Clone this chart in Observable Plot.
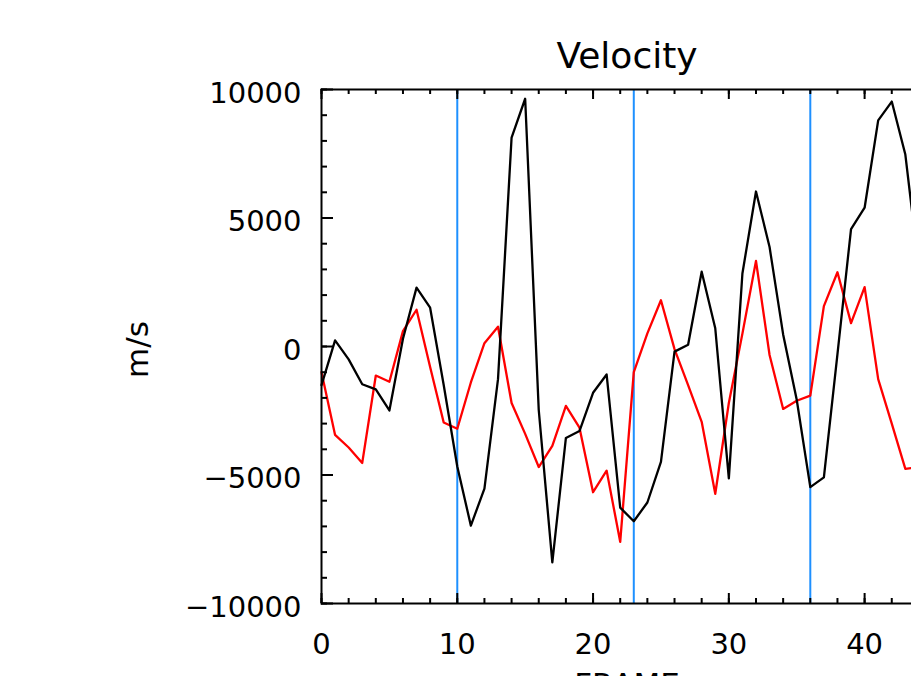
<!DOCTYPE html>
<html><head><meta charset="utf-8">
<script src="https://cdn.jsdelivr.net/npm/d3@7"></script>
<script src="https://cdn.jsdelivr.net/npm/@observablehq/plot@0.6"></script>
<style>html,body{margin:0;padding:0;background:#fff;overflow:hidden;width:911px;height:676px}</style>
</head><body><div id="chart"></div>
<script>
const frames = [0,1,2,3,4,5,6,7,8,9,10,11,12,13,14,15,16,17,18,19,20,21,22,23,24,25,26,27,28,29,30,31,32,33,34,35,36,37,38,39,40,41,42,43,44];
const blackVel = [-1500,240,-500,-1470,-1670,-2490,300,2290,1510,-1500,-4670,-6970,-5530,-1270,8130,9640,-2470,-8400,-3560,-3290,-1800,-1090,-6270,-6800,-6070,-4490,-200,70,2910,710,-5130,2840,6030,3870,470,-2070,-5470,-5090,-300,4570,5400,8800,9530,7470,3000];
const redVel = [-1000,-3440,-3930,-4530,-1130,-1370,600,1430,-800,-2960,-3200,-1400,130,770,-2200,-3400,-4690,-3870,-2310,-3160,-5670,-4830,-7600,-1000,510,1800,-100,-1500,-2930,-5730,-2200,500,3330,-330,-2430,-2110,-1910,1570,2890,910,2310,-1270,-3000,-4760,-4700];
const markerFrames = [10,23,36];
const xMajorTicks = [0,10,20,30,40];
const xMinorTicks = [0,2,4,6,8,10,12,14,16,18,20,22,24,26,28,30,32,34,36,38,40,42,44];
const yMajorTicks = [-10000,-5000,0,5000,10000];
const yMinorTicks = [-10000,-9000,-8000,-7000,-6000,-5000,-4000,-3000,-2000,-1000,0,1000,2000,3000,4000,5000,6000,7000,8000,9000,10000];
const xDomain = [0,45];
const yDomain = [-10000,10000];
const titleText = "Velocity";
const xLabel = "FRAME";
const yLabel = "m/s";

const W = 960, H = 676, mL = 321, mR = 28, mT = 89, mB = 73;
const innerW = W - mL - mR, innerH = H - mT - mB;
const rows = frames.map((f, i) => ({frame: f, black: blackVel[i], red: redVel[i]}));
const fmt = d => d < 0 ? "\u2212" + Math.abs(d) : String(d);
const font = "DejaVu Sans";

const chart = Plot.plot({
  width: W, height: H,
  marginLeft: mL, marginRight: mR, marginTop: mT, marginBottom: mB,
  x: {domain: xDomain},
  y: {domain: yDomain},
  style: {fontFamily: font, maxWidth: "none", background: "white", color: "black"},
  marks: [
    Plot.ruleX(markerFrames, {x: d => d, stroke: "#1e90ff", strokeWidth: 2}),
    Plot.line(rows, {x: "frame", y: "red", stroke: "#ff0000", strokeWidth: 2.3}),
    Plot.line(rows, {x: "frame", y: "black", stroke: "#000000", strokeWidth: 2.3}),
    Plot.tickX(xMinorTicks, {x: d => d, insetTop: innerH - 5, stroke: "black", strokeWidth: 2}),
    Plot.tickX(xMinorTicks, {x: d => d, insetBottom: innerH - 5, stroke: "black", strokeWidth: 2}),
    Plot.tickX(xMajorTicks, {x: d => d, insetTop: innerH - 10, stroke: "black", strokeWidth: 2}),
    Plot.tickX(xMajorTicks, {x: d => d, insetBottom: innerH - 10, stroke: "black", strokeWidth: 2}),
    Plot.tickY(yMinorTicks, {y: d => d, insetRight: innerW - 6, stroke: "black", strokeWidth: 2}),
    Plot.tickY(yMinorTicks, {y: d => d, insetLeft: innerW - 6, stroke: "black", strokeWidth: 2}),
    Plot.tickY(yMajorTicks, {y: d => d, insetRight: innerW - 12, stroke: "black", strokeWidth: 2}),
    Plot.tickY(yMajorTicks, {y: d => d, insetLeft: innerW - 12, stroke: "black", strokeWidth: 2}),
    Plot.frame({stroke: "black", strokeWidth: 2}),
    Plot.axisX({ticks: xMajorTicks, tickSize: 0, tickPadding: 30, fontSize: 29, label: null, tickFormat: fmt, fill: "black", letterSpacing: 1}),
    Plot.axisY({ticks: yMajorTicks, tickSize: 0, tickPadding: 20, fontSize: 29, label: null, tickFormat: fmt, dy: 4, fill: "black", letterSpacing: 1}),
    Plot.text([titleText], {frameAnchor: "top", textAnchor: "middle", lineAnchor: "bottom", dy: -22, fontSize: 36, fill: "black", text: d => d, letterSpacing: 1.5}),
    Plot.text([xLabel], {frameAnchor: "bottom", textAnchor: "middle", lineAnchor: "bottom", dy: 91, fontSize: 31, fill: "black", text: d => d, letterSpacing: 1.5}),
    Plot.text([yLabel], {frameAnchor: "left", textAnchor: "middle", rotate: -90, dx: -183, dy: 3, fontSize: 31, fill: "black", text: d => d, letterSpacing: 3})
  ]
});
document.getElementById("chart").appendChild(chart);
</script>
</body></html>
